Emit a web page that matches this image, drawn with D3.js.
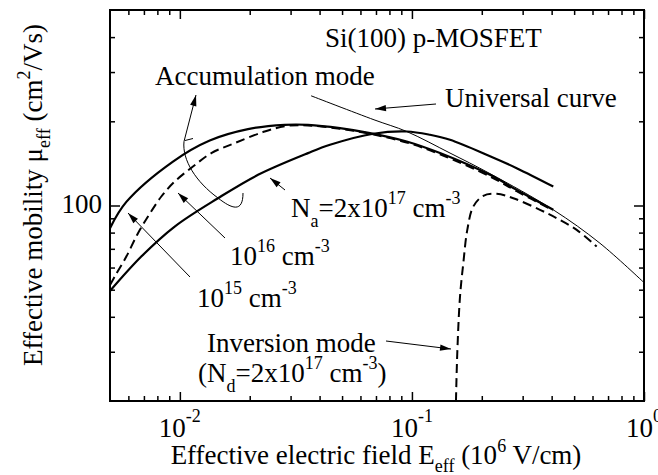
<!DOCTYPE html>
<html>
<head>
<meta charset="utf-8">
<script src="https://cdn.jsdelivr.net/npm/d3@7"></script>
<style>
  body { margin: 0; background: #fff; }
  svg { display: block; }
</style>
</head>
<body>
<svg id="chart" width="658" height="475"></svg>
<script>
// Effective field E_eff (10^6 V/cm) and effective hole mobility (cm^2/Vs)

// Accumulation mode, Na = 1e15 cm^-3 (solid)
const acc15E  = [0.0050, 0.00588, 0.00934, 0.01345, 0.01966, 0.02829, 0.03566, 0.04898, 0.06597, 0.09493, 0.1321, 0.217, 0.2827, 0.4065];
const acc15Mu = [83, 103, 143.6, 170.8, 187.6, 194.3, 194.3, 189.1, 181.5, 169.4, 154, 128.7, 113.7, 96.5];

// Accumulation mode, Na = 1e16 cm^-3 (dashed)
const acc16E  = [0.0050, 0.00524, 0.00588, 0.0066, 0.00729, 0.00832, 0.0095, 0.01139, 0.01366, 0.01723, 0.0232, 0.02924, 0.03566, 0.04898, 0.06597, 0.09493, 0.1321, 0.217, 0.2827, 0.4065];
const acc16Mu = [52, 55.7, 65.7, 79.6, 91.3, 107.7, 121.8, 137.8, 153.9, 167.1, 183.9, 192.7, 193.3, 188, 180.5, 168, 152.5, 127, 112.5, 96];

// Accumulation mode, Na = 2e17 cm^-3 (solid)
const acc217E  = [0.0050, 0.00682, 0.0095, 0.0146, 0.02172, 0.03566, 0.04436, 0.06817, 0.09493, 0.1196, 0.1459, 0.217, 0.2827, 0.4065];
const acc217Mu = [49.5, 65.7, 84.1, 106.2, 128.7, 153.9, 164.8, 180.5, 183.9, 179, 171.8, 150, 136, 116.9];

// Inversion mode, Nd = 2e17 cm^-3 (dashed)
const invE  = [0.1548, 0.1568, 0.1611, 0.1665, 0.1732, 0.1838, 0.2030, 0.2318, 0.2734, 0.3563, 0.4206, 0.5128, 0.6253];
const invMu = [20, 29.6, 47.2, 62.2, 81.8, 99.1, 108.3, 110.1, 106.2, 96.5, 90.1, 81.8, 71.3];

// Universal mobility curve (thin)
const uniE  = [0.03674, 0.06865, 0.09493, 0.1459, 0.217, 0.4065, 0.6459, 1.0];
const uniMu = [246.8, 202.5, 183.9, 154, 130, 96.5, 73.3, 53];

// Axis ticks and labels
const xMajorTicks = [0.01, 0.1, 1];
const xTickExps   = ["-2", "-1", "0"];
const yMajorTicks = [100];
const yTickLabels = ["100"];

const FONT = '"Liberation Serif"';
const svg = d3.select("#chart");
const W = 658, H = 475;
svg.append("rect").attr("width", W).attr("height", H).attr("fill", "#fff");

const plot = { left: 110, right: 644, top: 10, bottom: 401 };
const x = d3.scaleLog().domain([0.005, 1]).range([plot.left, plot.right]);
const y = d3.scaleLog().domain([20, 500]).range([plot.bottom, plot.top]);

// minor tick positions within each decade
const xMinor = [];
[0.001, 0.01, 0.1].forEach(d => { for (let k = 2; k <= 9; k++) { const v = d * k; if (v > 0.005 && v < 1) xMinor.push(v); } });
const yMinor = [];
[10, 100].forEach(d => { for (let k = 2; k <= 9; k++) { const v = d * k; if (v > 20 && v < 500 && v !== 100) yMinor.push(v); } });

function tickAxis(axisFn, scale, values, size, transform) {
  const g = svg.append("g").attr("transform", transform)
    .call(axisFn(scale).tickValues(values).tickSize(size).tickFormat(""));
  g.select(".domain").remove();
  g.selectAll(".tick line").attr("stroke", "#000").attr("stroke-width", 1.5);
  return g;
}
// ticks point inward on all four sides
tickAxis(d3.axisBottom, x, xMajorTicks, -9, `translate(0,${plot.bottom})`);
tickAxis(d3.axisBottom, x, xMinor, -5, `translate(0,${plot.bottom})`);
tickAxis(d3.axisTop, x, xMajorTicks, -9, `translate(0,${plot.top})`);
tickAxis(d3.axisTop, x, xMinor, -5, `translate(0,${plot.top})`);
tickAxis(d3.axisLeft, y, yMajorTicks, -10, `translate(${plot.left},0)`);
tickAxis(d3.axisLeft, y, yMinor, -5, `translate(${plot.left},0)`);
tickAxis(d3.axisRight, y, yMajorTicks, -10, `translate(${plot.right},0)`);
tickAxis(d3.axisRight, y, yMinor, -5, `translate(${plot.right},0)`);

// clip curves to the plot frame
svg.append("defs").append("clipPath").attr("id", "plotClip")
  .append("rect").attr("x", plot.left).attr("y", plot.top)
  .attr("width", plot.right - plot.left).attr("height", plot.bottom - plot.top);

const line = d3.line().x(d => x(d[0])).y(d => y(d[1])).curve(d3.curveCatmullRom.alpha(0.5));
const curves = svg.append("g").attr("clip-path", "url(#plotClip)");
function drawCurve(es, mus, width, dash) {
  curves.append("path")
    .attr("d", line(es.map((e, i) => [e, mus[i]])))
    .attr("fill", "none").attr("stroke", "#000")
    .attr("stroke-width", width)
    .attr("stroke-dasharray", dash || null)
    .attr("stroke-linejoin", "round");
}
drawCurve(uniE, uniMu, 1);
drawCurve(acc15E, acc15Mu, 2.2);
drawCurve(acc16E, acc16Mu, 2, "9,5");
drawCurve(acc217E, acc217Mu, 2.2);
drawCurve(invE, invMu, 2, "9,5");

// frame
svg.append("rect")
  .attr("x", plot.left).attr("y", plot.top)
  .attr("width", plot.right - plot.left).attr("height", plot.bottom - plot.top)
  .attr("fill", "none").attr("stroke", "#000").attr("stroke-width", 2);

// text with sub/superscripts: parts = [[text, "sup"|"sub"|undefined], ...]
function rich(sel, parts, opt) {
  const o = Object.assign({ size: 27, small: 18, raise: 12, drop: 9 }, opt || {});
  sel.style("font-family", FONT).style("font-size", o.size + "px").attr("fill", "#000");
  let shift = 0;
  parts.forEach(([t, kind]) => {
    const target = kind === "sup" ? -o.raise : kind === "sub" ? o.drop : 0;
    const ts = sel.append("tspan").text(t).attr("dy", target - shift);
    if (kind) ts.style("font-size", o.small + "px");
    shift = target;
  });
  return sel;
}
function label(xp, yp, parts, anchor, opt) {
  const t = svg.append("text").attr("x", xp).attr("y", yp).attr("text-anchor", anchor || "start");
  return rich(t, parts, opt);
}

// axis tick labels
xMajorTicks.forEach((v, i) => {
  label(x(v), 437, [["10"], [xTickExps[i], "sup"]], "middle", { raise: 15 });
});
yMajorTicks.forEach((v, i) => {
  label(plot.left - 8, y(v) + 7, [[yTickLabels[i]]], "end");
});

// axis titles
label(376, 464, [["Effective electric field E"], ["eff", "sub"], [" (10"], ["6", "sup"], [" V/cm)"]], "middle", { drop: 8 });
const yt = svg.append("text").attr("transform", "translate(42,195) rotate(-90)").attr("text-anchor", "middle");
rich(yt, [["Effective mobility \u03bc"], ["eff", "sub"], [" (cm"], ["2", "sup"], ["/Vs)"]], { drop: 8 });

// annotations
label(325, 47, [["Si(100) p-MOSFET"]]);
label(155, 85, [["Accumulation mode"]]);
label(445, 107, [["Universal curve"]]);
label(291, 217, [["N"], ["a", "sub"], ["=2x10"], ["17", "sup"], [" cm"], ["-3", "sup"]], "start", { raise: 13, drop: 10 });
label(230, 265, [["10"], ["16", "sup"], [" cm"], ["-3", "sup"]], "start", { raise: 13 });
label(197, 307, [["10"], ["15", "sup"], [" cm"], ["-3", "sup"]], "start", { raise: 13 });
label(207, 352, [["Inversion mode"]]);
label(198, 382, [["(N"], ["d", "sub"], ["=2x10"], ["17", "sup"], [" cm"], ["-3", "sup"], [")"]], "start", { raise: 13, drop: 10 });

const ann = svg.append("g").attr("stroke", "#000").attr("fill", "none").attr("stroke-width", 1);
function arrowHead(x1, y1, x2, y2) {
  const a = Math.atan2(y2 - y1, x2 - x1), L = 11, Wd = 3.2;
  const bx = x2 - L * Math.cos(a), by = y2 - L * Math.sin(a);
  const px = -Math.sin(a) * Wd, py = Math.cos(a) * Wd;
  svg.append("path")
    .attr("d", `M${x2},${y2}L${bx + px},${by + py}L${bx - px},${by - py}Z`)
    .attr("fill", "#000");
}
function arrow(x1, y1, x2, y2) {
  ann.append("line").attr("x1", x1).attr("y1", y1).attr("x2", x2).attr("y2", y2);
  arrowHead(x1, y1, x2, y2);
}
arrow(436, 104, 375, 109);   // universal curve
arrow(285, 190, 270, 178);   // Na = 2e17
arrow(225, 238, 178, 193);   // 1e16
arrow(190, 277, 128, 213);   // 1e15
arrow(386, 341, 451, 349);   // inversion mode
// accumulation-mode pointer: loop around the three accumulation curves
ann.append("path").attr("d", "M196,95 L184,141.5 C182,160 196,182 218,198 C232,209 243,213 243,193");
ann.append("line").attr("x1", 185).attr("y1", 140.5).attr("x2", 193).attr("y2", 138.5);
arrowHead(184, 141.5, 196, 95);
</script>
</body>
</html>
